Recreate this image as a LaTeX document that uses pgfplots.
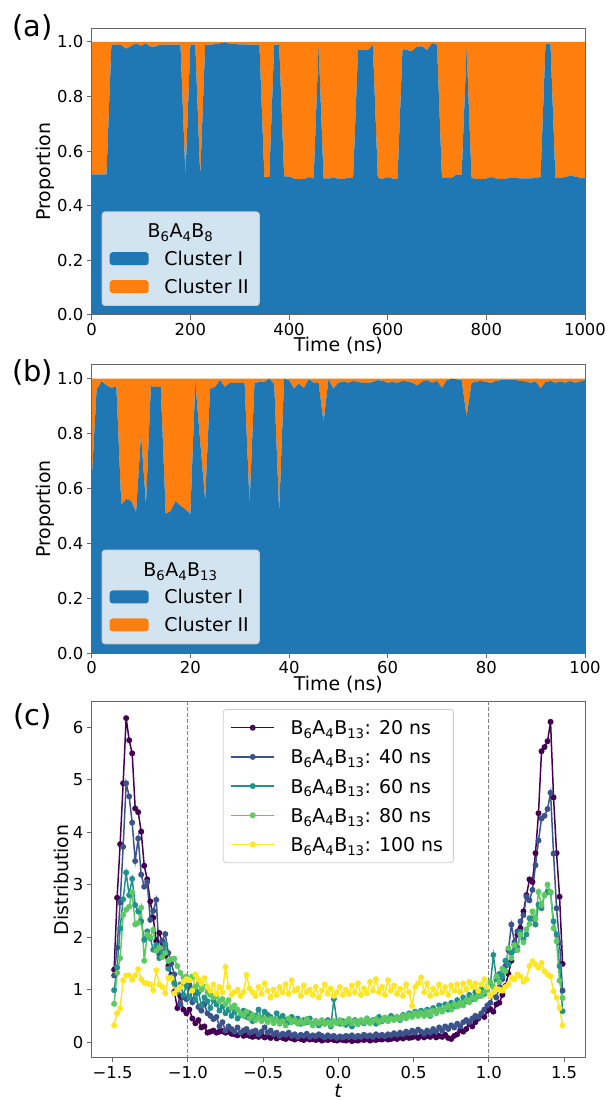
\documentclass[border=0pt]{standalone}
\usepackage{fontspec}
\setmainfont{DejaVu Sans}
\usepackage{pgfplots}
\usepackage{pgfplotstable}
\pgfplotsset{compat=1.18}

\definecolor{cone}{HTML}{1F77B4}
\definecolor{ctwo}{HTML}{FF7F0E}
\definecolor{legbg}{RGB}{210,228,240}
\definecolor{vA}{HTML}{440154}
\definecolor{vB}{HTML}{3B528B}
\definecolor{vC}{HTML}{21918C}
\definecolor{vD}{HTML}{5EC962}
\definecolor{vE}{HTML}{FDE725}
\definecolor{spine}{gray}{0.4}

\pgfplotstableread{
t c1 c2
0 0.515 0.485
10 0.515 0.485
20 0.515 0.485
30 0.515 0.485
40 0.990 0.010
50 0.990 0.010
60 0.988 0.012
70 0.975 0.025
80 0.985 0.015
90 0.994 0.006
100 0.986 0.014
110 0.994 0.006
120 0.982 0.018
130 0.984 0.016
140 0.990 0.010
150 0.990 0.010
160 0.990 0.010
170 0.990 0.010
180 0.990 0.010
190 0.505 0.495
200 0.990 0.010
210 0.990 0.010
220 0.505 0.495
230 0.990 0.010
240 0.990 0.010
250 0.992 0.008
260 0.995 0.005
270 0.999 0.001
280 0.993 0.007
290 0.992 0.008
300 0.991 0.009
310 0.991 0.009
320 0.990 0.010
330 0.990 0.010
340 0.990 0.010
350 0.505 0.495
360 0.505 0.495
370 0.990 0.010
380 0.990 0.010
390 0.508 0.492
400 0.507 0.493
410 0.500 0.500
420 0.497 0.503
430 0.498 0.502
440 0.505 0.495
450 0.500 0.500
460 0.987 0.013
470 0.500 0.500
480 0.500 0.500
490 0.502 0.498
500 0.500 0.500
510 0.498 0.502
520 0.503 0.497
530 0.502 0.498
540 0.972 0.028
550 0.970 0.030
560 0.970 0.030
570 0.989 0.011
580 0.502 0.498
590 0.498 0.502
600 0.505 0.495
610 0.500 0.500
620 0.498 0.502
630 0.972 0.028
640 0.970 0.030
650 0.967 0.033
660 0.984 0.016
670 0.984 0.016
680 0.970 0.030
690 0.996 0.004
700 0.990 0.010
710 0.502 0.498
720 0.502 0.498
730 0.502 0.498
740 0.515 0.485
750 0.513 0.487
760 0.978 0.022
770 0.502 0.498
780 0.498 0.502
790 0.497 0.503
800 0.500 0.500
810 0.505 0.495
820 0.500 0.500
830 0.497 0.503
840 0.500 0.500
850 0.502 0.498
860 0.502 0.498
870 0.500 0.500
880 0.500 0.500
890 0.500 0.500
900 0.502 0.498
910 0.505 0.495
920 0.994 0.006
930 0.994 0.006
940 0.502 0.498
950 0.502 0.498
960 0.505 0.495
970 0.510 0.490
980 0.507 0.493
990 0.503 0.497
1000 0.503 0.497
}\dataA

\pgfplotstableread{
t c1 c2
0 0.630 0.370
1 0.960 0.040
2 0.990 0.010
3 0.976 0.024
4 0.966 0.034
5 0.973 0.027
6 0.541 0.459
7 0.562 0.438
8 0.555 0.445
9 0.514 0.486
10 0.797 0.203
11 0.542 0.458
12 0.973 0.027
13 0.970 0.030
14 0.970 0.030
15 0.508 0.492
16 0.518 0.482
17 0.554 0.446
18 0.537 0.463
19 0.524 0.476
20 0.506 0.494
21 0.990 0.010
22 0.770 0.230
23 0.557 0.443
24 0.963 0.037
25 0.970 0.030
26 0.995 0.005
27 0.970 0.030
28 0.985 0.015
29 0.985 0.015
30 0.985 0.015
31 0.985 0.015
32 0.540 0.460
33 0.985 0.015
34 0.988 0.012
35 0.988 0.012
36 1.000 0.000
37 0.980 0.020
38 0.514 0.486
39 1.000 0.000
40 0.995 0.005
41 0.964 0.036
42 0.982 0.018
43 0.966 0.034
44 0.998 0.002
45 0.985 0.015
46 0.985 0.015
47 0.842 0.158
48 0.998 0.002
49 0.964 0.036
50 0.985 0.015
51 0.990 0.010
52 0.985 0.015
53 0.992 0.008
54 0.988 0.012
55 0.985 0.015
56 0.985 0.015
57 0.988 0.012
58 0.995 0.005
59 0.992 0.008
60 0.985 0.015
61 0.988 0.012
62 0.985 0.015
63 0.992 0.008
64 0.990 0.010
65 0.985 0.015
66 0.975 0.025
67 0.990 0.010
68 0.995 0.005
69 0.985 0.015
70 0.992 0.008
71 0.966 0.034
72 0.995 0.005
73 1.000 0.000
74 0.998 0.002
75 0.995 0.005
76 0.862 0.138
77 0.985 0.015
78 0.990 0.010
79 0.992 0.008
80 0.988 0.012
81 0.985 0.015
82 0.992 0.008
83 0.995 0.005
84 0.995 0.005
85 0.998 0.002
86 0.995 0.005
87 0.992 0.008
88 0.990 0.010
89 0.985 0.015
90 0.990 0.010
91 0.965 0.035
92 0.988 0.012
93 0.992 0.008
94 0.985 0.015
95 0.990 0.010
96 0.985 0.015
97 0.992 0.008
98 0.985 0.015
99 0.990 0.010
100 0.995 0.005
}\dataB

\pgfplotstableread{
t p1 p2 p3 p4 p5
-1.49 1.38 1.27 0.99 0.73 0.32
-1.47 2.75 1.80 1.42 1.32 0.55
-1.45 3.77 2.66 2.17 1.60 0.64
-1.43 4.93 3.72 2.72 2.42 1.18
-1.41 6.17 4.93 3.23 2.52 1.27
-1.39 5.75 4.68 2.80 2.58 1.27
-1.37 5.50 4.18 3.11 2.85 1.19
-1.35 4.45 3.45 2.61 2.24 1.27
-1.33 4.38 3.88 2.49 2.27 1.39
-1.31 4.01 3.19 2.30 2.56 1.20
-1.29 3.36 2.96 1.95 1.55 1.13
-1.27 3.10 3.05 2.11 2.05 1.12
-1.25 2.68 2.33 1.98 2.00 1.10
-1.23 2.37 2.50 1.76 2.14 0.99
-1.21 1.92 2.71 1.85 1.74 1.37
-1.19 2.08 1.67 1.60 1.80 1.10
-1.17 1.90 1.93 1.72 1.62 1.05
-1.15 1.65 2.06 1.86 1.70 0.93
-1.13 1.45 1.70 1.40 1.55 1.22
-1.11 1.28 1.50 1.25 1.58 1.22
-1.09 0.96 1.29 1.12 1.59 0.93
-1.07 0.65 0.98 0.95 1.45 1.00
-1.05 0.88 0.72 1.10 1.32 1.05
-1.03 0.62 0.86 0.90 1.22 1.15
-1.01 0.55 0.82 1.08 1.25 1.20
-0.99 0.62 1.09 0.85 1.18 1.18
-0.97 0.45 0.76 1.00 1.25 0.98
-0.95 0.36 0.98 0.80 1.05 1.29
-0.93 0.42 0.67 0.95 1.10 1.20
-0.91 0.28 0.60 0.70 1.00 1.12
-0.89 0.30 0.72 0.85 1.05 1.22
-0.87 0.18 0.55 0.78 0.95 1.05
-0.85 0.20 0.50 0.65 0.90 0.98
-0.83 0.22 0.44 0.80 0.85 1.10
-0.81 0.18 0.48 0.72 0.88 0.92
-0.79 0.20 0.30 0.60 0.78 1.05
-0.77 0.21 0.38 0.68 0.82 0.95
-0.75 0.18 0.22 0.55 0.72 1.43
-0.73 0.20 0.30 0.62 0.80 1.05
-0.71 0.16 0.25 0.50 0.65 0.90
-0.69 0.15 0.20 0.58 0.70 0.95
-0.67 0.13 0.28 0.45 0.62 1.00
-0.65 0.17 0.18 0.52 0.55 0.88
-0.63 0.12 0.22 0.60 0.50 0.95
-0.61 0.14 0.25 0.48 0.58 1.28
-0.59 0.12 0.18 0.55 0.45 1.02
-0.57 0.10 0.20 0.40 0.52 0.95
-0.55 0.12 0.22 0.50 0.42 0.88
-0.53 0.10 0.15 0.62 0.48 1.05
-0.51 0.13 0.20 0.45 0.40 0.92
-0.49 0.09 0.28 0.58 0.45 1.12
-0.47 0.11 0.18 0.52 0.38 0.98
-0.45 0.08 0.22 0.48 0.44 0.85
-0.43 0.12 0.15 0.40 0.36 1.00
-0.41 0.07 0.18 0.55 0.42 0.90
-0.39 0.10 0.12 0.45 0.35 1.05
-0.37 0.08 0.16 0.50 0.40 0.95
-0.35 0.06 0.14 0.42 0.32 1.10
-0.33 0.09 0.18 0.38 0.45 0.92
-0.31 0.07 0.12 0.48 0.38 1.18
-0.29 0.05 0.15 0.40 0.42 0.98
-0.27 0.08 0.10 0.45 0.35 1.02
-0.25 0.06 0.14 0.35 0.40 0.88
-0.23 0.04 0.12 0.42 0.36 1.08
-0.21 0.07 0.16 0.38 0.44 0.95
-0.19 0.05 0.10 0.45 0.38 1.00
-0.17 0.06 0.13 0.35 0.32 0.90
-0.15 0.04 0.11 0.40 0.40 1.05
-0.13 0.06 0.15 0.32 0.36 0.85
-0.11 0.03 0.12 0.38 0.42 0.98
-0.09 0.05 0.09 0.35 0.35 1.10
-0.07 0.04 0.13 0.42 0.38 0.92
-0.05 0.06 0.10 0.30 0.33 1.02
-0.03 0.04 0.12 0.82 0.40 0.88
-0.01 0.03 0.08 0.38 0.36 0.95
0.01 0.05 0.11 0.35 0.42 1.05
0.03 0.04 0.09 0.40 0.35 0.90
0.05 0.03 0.12 0.33 0.38 1.00
0.07 0.05 0.10 0.38 0.44 0.92
0.09 0.02 0.13 0.30 0.36 1.08
0.11 0.04 0.09 0.42 0.40 0.95
0.13 0.03 0.12 0.35 0.34 1.12
0.15 0.05 0.10 0.40 0.42 0.90
0.17 0.04 0.14 0.36 0.38 1.02
0.19 0.06 0.11 0.45 0.45 0.93
0.21 0.03 0.13 0.38 0.36 1.15
0.23 0.05 0.10 0.42 0.40 0.98
0.25 0.04 0.15 0.35 0.44 1.20
0.27 0.06 0.12 0.48 0.38 0.95
0.29 0.05 0.14 0.40 0.42 1.05
0.31 0.07 0.11 0.45 0.47 0.90
0.33 0.05 0.15 0.42 0.40 1.18
0.35 0.06 0.13 0.50 0.45 0.98
0.37 0.08 0.17 0.44 0.42 1.08
0.39 0.06 0.14 0.48 0.48 0.92
0.41 0.09 0.18 0.42 0.44 1.02
0.43 0.07 0.15 0.52 0.50 0.88
0.45 0.10 0.20 0.46 0.46 1.10
0.47 0.08 0.17 0.55 0.52 0.95
0.49 0.09 0.22 0.50 0.48 0.69
0.51 0.11 0.18 0.58 0.55 1.05
0.53 0.08 0.24 0.52 0.50 1.12
0.55 0.12 0.20 0.60 0.56 1.23
0.57 0.09 0.16 0.55 0.50 0.95
0.59 0.12 0.22 0.62 0.58 1.12
0.61 0.10 0.18 0.50 0.52 0.88
0.63 0.13 0.25 0.65 0.60 1.02
0.65 0.09 0.20 0.58 0.55 0.92
0.67 0.12 0.28 0.70 0.62 1.10
0.69 0.10 0.22 0.60 0.58 0.95
0.71 0.14 0.30 0.72 0.65 1.05
0.73 0.08 0.25 0.62 0.70 0.90
0.75 0.06 0.32 0.75 0.62 1.08
0.77 0.12 0.28 0.68 0.72 0.98
0.79 0.15 0.35 0.80 0.68 1.10
0.81 0.23 0.30 0.72 0.75 0.95
0.83 0.20 0.38 0.85 0.70 1.12
0.85 0.25 0.42 0.78 0.80 1.00
0.87 0.35 0.38 0.90 0.76 1.15
0.89 0.30 0.45 0.82 0.85 1.05
0.91 0.38 0.50 0.95 0.82 1.12
0.93 0.45 0.48 0.88 0.90 0.98
0.95 0.52 0.55 1.00 0.88 1.10
0.97 0.48 0.62 0.92 0.95 1.20
0.99 0.60 0.70 1.05 1.00 1.05
1.01 0.63 0.75 1.10 1.15 0.88
1.03 0.58 0.92 1.66 1.05 0.95
1.05 0.72 0.85 1.20 1.25 1.02
1.07 0.75 1.05 1.30 1.15 1.00
1.09 0.90 1.20 1.25 1.40 0.98
1.11 1.07 1.45 1.55 1.35 1.05
1.13 1.30 1.75 1.48 1.79 1.10
1.15 1.55 2.24 1.70 1.60 1.23
1.17 1.85 1.90 1.75 1.85 1.20
1.19 2.05 2.11 1.80 1.75 1.29
1.21 2.17 2.30 2.10 2.05 1.25
1.23 2.49 2.42 1.95 1.90 1.15
1.25 2.80 2.77 2.05 2.15 1.20
1.27 3.10 2.70 2.36 2.25 1.45
1.29 3.05 2.90 2.35 2.49 1.54
1.31 3.60 3.37 2.24 2.35 1.48
1.33 4.36 3.84 2.62 2.86 1.42
1.35 5.54 4.26 2.55 2.61 1.51
1.37 5.62 4.31 2.80 2.80 1.35
1.39 5.73 4.44 2.86 3.00 1.29
1.41 6.10 4.75 2.85 2.86 1.25
1.43 4.66 3.59 2.30 2.17 0.97
1.45 3.60 2.55 2.05 1.92 0.85
1.47 2.77 1.90 1.45 1.17 0.65
1.49 1.49 0.98 0.59 0.84 0.32
}\dataC

\pgfplotsset{
  base/.style={
    scale only axis, width=493.3bp,
    axis line style={spine, line width=1bp},
    every tick/.style={spine, line width=1bp},
    tick align=outside, major tick length=4.8bp,
    xtick pos=left, ytick pos=left,
    tick label style={font=\fontsize{16.5}{19}\selectfont},
    label style={font=\fontsize{19}{22}\selectfont},
  },
  stackleg/.style={
    legend style={at={(0,0)}, anchor=south west, xshift=10bp, yshift=9bp,
      fill=legbg, draw=black!20, rounded corners=3bp, line width=0.8bp,
      font=\fontsize{19}{22}\selectfont,
      inner xsep=7.6bp, inner ysep=4.9bp, row sep=0bp, column sep=12.7bp,
      nodes={inner xsep=3bp, inner ysep=2bp, text height=18.95bp, text depth=5.05bp}},
    legend cell align=left,
  },
  patchlegend/.style={legend image code/.code={\fill[##1] (0bp,-6.5bp) rectangle (39bp,6.5bp);}},
}

\begin{document}
\begin{tikzpicture}
\path[use as bounding box] (0,0) rectangle (608bp,1101bp);

% ---------- (a)
\begin{axis}[base, at={(91.7bp,786bp)}, anchor=south west, height=286.7bp,
  xmin=0, xmax=1000, ymin=0, ymax=1.05, stack plots=y, axis on top,
  xtick={0,200,400,600,800,1000}, xticklabels={0,200,400,600,800,1000},
  ytick={0,0.2,0.4,0.6,0.8,1}, yticklabels={0.0,0.2,0.4,0.6,0.8,1.0},
  xlabel={Time (ns)}, ylabel={Proportion}, stackleg,
  xlabel style={yshift=5bp}, ylabel style={yshift=-4bp}]
\addlegendimage{empty legend}
\addplot[fill=cone, draw=none, patchlegend] table[x=t,y=c1] {\dataA} \closedcycle;
\addplot[fill=ctwo, draw=none, patchlegend] table[x=t,y=c2] {\dataA} \closedcycle;
\legend{\phantom{B},Cluster I,Cluster II}
\end{axis}
\node[anchor=base, font=\fontsize{19}{22}\selectfont] at (180.5bp,863bp) {B\textsubscript{6}A\textsubscript{4}B\textsubscript{8}};

% ---------- (b)
\begin{axis}[base, at={(91.7bp,447.7bp)}, anchor=south west, height=288.3bp,
  xmin=0, xmax=100, ymin=0, ymax=1.05, stack plots=y, axis on top,
  xtick={0,20,40,60,80,100}, xticklabels={0,20,40,60,80,100},
  ytick={0,0.2,0.4,0.6,0.8,1}, yticklabels={0.0,0.2,0.4,0.6,0.8,1.0},
  xlabel={Time (ns)}, ylabel={Proportion}, stackleg,
  xlabel style={yshift=5bp}, ylabel style={yshift=-4bp}]
\addlegendimage{empty legend}
\addplot[fill=cone, draw=none, patchlegend] table[x=t,y=c1] {\dataB} \closedcycle;
\addplot[fill=ctwo, draw=none, patchlegend] table[x=t,y=c2] {\dataB} \closedcycle;
\legend{\phantom{B},Cluster I,Cluster II}
\end{axis}
\node[anchor=base, font=\fontsize{19}{22}\selectfont] at (180.5bp,524.7bp) {B\textsubscript{6}A\textsubscript{4}B\textsubscript{13}};

% ---------- (c)
\begin{axis}[base, at={(91.7bp,43.3bp)}, anchor=south west, height=355.7bp,
  xmin=-1.639, xmax=1.639, ymin=-0.296, ymax=6.478,
  xtick={-1.5,-1,-0.5,0,0.5,1,1.5}, xticklabels={−1.5,−1.0,−0.5,0.0,0.5,1.0,1.5},
  ytick={0,1,2,3,4,5,6}, yticklabels={0,1,2,3,4,5,6},
  xlabel={\textit{t}}, ylabel={Distribution},
  xlabel style={inner sep=1bp, yshift=-1.2bp}, ylabel style={yshift=-3bp},
  legend style={at={(0.5,1)}, anchor=north, yshift=-7bp,
    fill=white, fill opacity=0.8, text opacity=1, draw=black!20,
    rounded corners=3bp, line width=0.8bp,
    font=\fontsize{19}{22}\selectfont,
    inner xsep=7.3bp, inner ysep=3.7bp, row sep=0bp, column sep=12.7bp,
    nodes={inner xsep=3bp, inner ysep=2bp, text height=19.55bp, text depth=5.65bp}},
  legend cell align=left,
  legend image code/.code={\draw[mark repeat=2,mark phase=2,#1] plot coordinates {(0bp,0bp) (21.35bp,0bp) (42.7bp,0bp)};},
  every axis plot/.append style={line width=1.5bp, mark=*, mark size=2.2bp, mark options={solid}},
]
\addplot[black!50, line width=1bp, dash pattern=on 4bp off 2bp, mark=none, forget plot] coordinates {(-1,-1) (-1,7)};
\addplot[black!50, line width=1bp, dash pattern=on 4bp off 2bp, mark=none, forget plot] coordinates {(1,-1) (1,7)};
\addplot[vA] table[x=t,y=p1] {\dataC};
\addlegendentry{B\textsubscript{6}A\textsubscript{4}B\textsubscript{13}: 20 ns}
\addplot[vB] table[x=t,y=p2] {\dataC};
\addlegendentry{B\textsubscript{6}A\textsubscript{4}B\textsubscript{13}: 40 ns}
\addplot[vC] table[x=t,y=p3] {\dataC};
\addlegendentry{B\textsubscript{6}A\textsubscript{4}B\textsubscript{13}: 60 ns}
\addplot[vD] table[x=t,y=p4] {\dataC};
\addlegendentry{B\textsubscript{6}A\textsubscript{4}B\textsubscript{13}: 80 ns}
\addplot[vE] table[x=t,y=p5] {\dataC};
\addlegendentry{B\textsubscript{6}A\textsubscript{4}B\textsubscript{13}: 100 ns}
\end{axis}

\node[font=\fontsize{29}{32}\selectfont] at (32.5bp,1074bp) {(a)};
\node[font=\fontsize{29}{32}\selectfont] at (32.5bp,729bp) {(b)};
\node[font=\fontsize{29}{32}\selectfont] at (32.5bp,385bp) {(c)};
\end{tikzpicture}
\end{document}
